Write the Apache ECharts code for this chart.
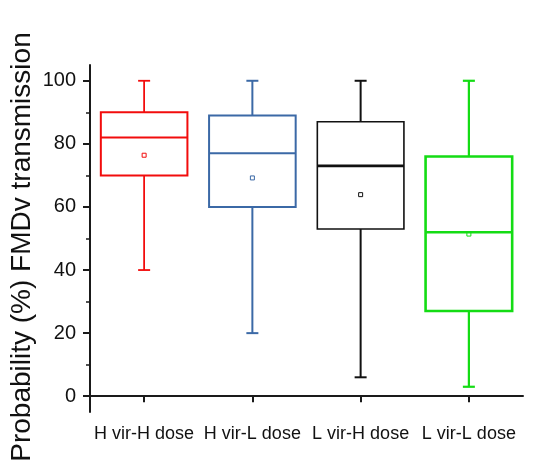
<!DOCTYPE html>
<html>
<head>
<meta charset="utf-8">
<script src="https://cdn.jsdelivr.net/npm/echarts@6/dist/echarts.min.js"></script>
<style>
  html, body { margin: 0; padding: 0; background: #ffffff; }
  #chart { width: 544px; height: 474px; }
</style>
</head>
<body>
<div id="chart"></div>
<script>
// Groups along the x axis
const categories = ['H vir-H dose', 'H vir-L dose', 'L vir-H dose', 'L vir-L dose'];

// Five-number summaries per group (%)
const whiskerLow  = [40, 20, 6, 3];
const quartile1   = [70, 60, 53, 27];
const medians     = [82, 77, 73, 52];
const quartile3   = [90, 89, 87, 76];
const whiskerHigh = [100, 100, 100, 100];
const means       = [76.4, 69.2, 63.9, 51.4];

// Axis ticks
const majorTicks = [0, 20, 40, 60, 80, 100];
const minorTicks = [10, 30, 50, 70, 90];

// Per-group stroke styling
const boxColors   = ['#f20c0c', '#3b69a6', '#111111', '#14dc14'];
const boxWidths   = [2, 2, 1.6, 2.6];
const medianWidths = [2, 2, 2.8, 2.6];
const whiskerWidths = [1.8, 2, 2, 2.2];

const seriesData = categories.map((c, i) => [
  i, whiskerLow[i], quartile1[i], medians[i], quartile3[i], whiskerHigh[i], means[i]
]);

function renderBox(params, api) {
  const idx = api.value(0);
  const color = boxColors[idx];
  const xC = api.coord([idx, 0])[0];
  const band = api.size([1, 0])[0];
  const half = band * 0.4;
  const capHalf = 6;
  const y = v => api.coord([idx, v])[1];
  const yMin = y(api.value(1)), yQ1 = y(api.value(2)), yMed = y(api.value(3));
  const yQ3 = y(api.value(4)), yMax = y(api.value(5)), yMean = y(api.value(6));
  const ls = (w) => ({ stroke: color, lineWidth: w, fill: null });
  return {
    type: 'group',
    children: [
      { type: 'line', shape: { x1: xC, y1: yQ3, x2: xC, y2: yMax }, style: ls(whiskerWidths[idx]) },
      { type: 'line', shape: { x1: xC, y1: yQ1, x2: xC, y2: yMin }, style: ls(whiskerWidths[idx]) },
      { type: 'line', shape: { x1: xC - capHalf, y1: yMax, x2: xC + capHalf, y2: yMax }, style: ls(whiskerWidths[idx]) },
      { type: 'line', shape: { x1: xC - capHalf, y1: yMin, x2: xC + capHalf, y2: yMin }, style: ls(whiskerWidths[idx]) },
      { type: 'rect', shape: { x: xC - half, y: yQ3, width: half * 2, height: yQ1 - yQ3 },
        style: { stroke: color, lineWidth: boxWidths[idx], fill: '#ffffff' } },
      { type: 'line', shape: { x1: xC - half, y1: yMed, x2: xC + half, y2: yMed }, style: ls(medianWidths[idx]) },
      { type: 'rect', shape: { x: xC - 2, y: yMean - 2, width: 4, height: 4 },
        style: { stroke: color, lineWidth: 1, fill: null } }
    ]
  };
}

const chart = echarts.init(document.getElementById('chart'), null, { renderer: 'canvas' });
const axisColor = '#1a1a1a';
const font = 'Arial, "Liberation Sans", sans-serif';

chart.setOption({
  backgroundColor: '#ffffff',
  animation: false,
  grid: { left: 90, right: 21, top: 65, bottom: 62 },
  xAxis: {
    type: 'category',
    data: categories,
    boundaryGap: true,
    axisLine: { show: true, lineStyle: { color: axisColor, width: 2 } },
    axisTick: { show: true, alignWithLabel: true, length: 6, lineStyle: { color: axisColor, width: 2 } },
    axisLabel: { color: '#111111', fontSize: 18, fontFamily: font, margin: 13, interval: 0 },
    splitLine: { show: false }
  },
  yAxis: [
    {
      type: 'value',
      min: -5,
      max: 105,
      axisLine: { show: true, lineStyle: { color: axisColor, width: 2 } },
      axisTick: { show: true, length: 7, customValues: majorTicks, lineStyle: { color: axisColor, width: 2 } },
      axisLabel: { show: true, customValues: majorTicks, color: '#111111', fontSize: 20, fontFamily: font, margin: 14 },
      splitLine: { show: false }
    },
    {
      type: 'value',
      min: -5,
      max: 105,
      position: 'left',
      offset: 0,
      axisLine: { show: false },
      axisTick: { show: true, length: 4, customValues: minorTicks, lineStyle: { color: axisColor, width: 1.5 } },
      axisLabel: { show: false },
      splitLine: { show: false }
    }
  ],
  graphic: [
    {
      type: 'text',
      x: 22,
      y: 247,
      rotation: Math.PI / 2,
      style: {
        text: 'Probability (%) FMDv transmission',
        fontSize: 28,
        fontFamily: font,
        fill: '#111111',
        align: 'center',
        verticalAlign: 'middle'
      }
    }
  ],
  series: [
    {
      type: 'custom',
      renderItem: renderBox,
      data: seriesData,
      encode: { x: 0, y: [1, 2, 3, 4, 5] },
      clip: false,
      z: 3
    }
  ]
});
</script>
</body>
</html>
